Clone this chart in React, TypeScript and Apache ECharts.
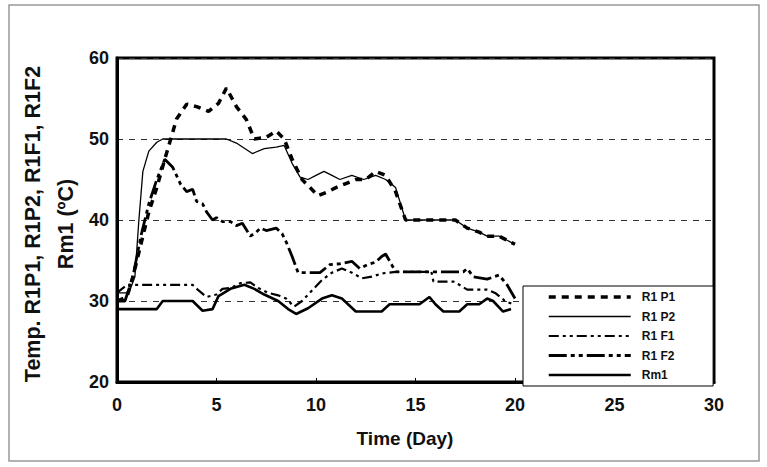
import React, { useEffect, useRef } from "react";
import * as echarts from "echarts";

const seriesNames = ["R1 P1", "R1 P2", "R1 F1", "R1 F2", "Rm1"];

const p1Days = [0, 0.5, 0.8, 1.2, 1.6, 2.0, 2.4, 2.7, 3.0, 3.5, 4.0, 4.6, 5.1, 5.5, 6.0, 6.5, 6.9, 7.5, 8.0, 8.4, 8.8, 9.3, 9.7, 10.1, 10.6, 11.0, 11.5, 12.0, 12.5, 13.0, 13.5, 14.0, 14.5, 15.5, 16.5, 17.0, 17.6, 18.2, 18.6, 19.2, 19.6, 20.0];
const p1Temps = [30, 30.5, 33, 37, 41, 44, 47.5, 50, 52.5, 54.3, 54, 53.4, 54.4, 56.3, 54, 52.4, 50, 50.2, 51, 50, 47.5, 45, 44, 43, 43.5, 44, 44.5, 45, 45, 46, 45.5, 43.5, 40, 40, 40, 40, 39, 38.5, 38, 38, 37.5, 37];

const p2Days = [0, 0.6, 0.9, 1.1, 1.3, 1.6, 2.0, 2.3, 3.0, 4.0, 5.0, 5.5, 6.0, 6.8, 7.4, 8.0, 8.4, 8.8, 9.2, 9.6, 10.0, 10.4, 10.8, 11.2, 11.8, 12.4, 13.0, 13.5, 14.0, 14.5, 15.5, 16.5, 17.0, 17.6, 18.2, 18.6, 19.2, 19.6, 20.0];
const p2Temps = [31, 31, 33, 40, 46, 48.5, 49.6, 50, 50, 50, 50, 50, 49.5, 48.2, 48.8, 49, 49.2, 47, 45.3, 45, 45.5, 46, 45.5, 45, 45.5, 45, 45.5, 45, 44, 40, 40, 40, 40, 39, 38.5, 38, 38, 37.5, 37];

const f1Days = [0, 0.5, 0.8, 2.0, 3.0, 3.8, 4.1, 4.5, 5.0, 5.3, 5.7, 6.2, 6.7, 7.1, 7.6, 8.1, 8.5, 8.9, 9.3, 9.8, 10.3, 10.8, 11.3, 11.8, 12.3, 12.8, 13.3, 14.0, 15.0, 15.8, 15.9, 16.9, 17.2, 17.6, 18.6, 19.0, 19.5, 20.0];
const f1Temps = [31, 32, 32, 32, 32, 32, 31.3, 30.5, 30.8, 31.5, 31.6, 32.2, 32.3, 31.6, 31, 30.7, 30.3, 29.3, 30, 31.3, 32.6, 33.5, 34, 33.5, 32.8, 33, 33.4, 33.6, 33.6, 33.6, 32.4, 32.4, 32, 31.4, 31.4, 31, 30, 29.5];

const f2Days = [0, 0.4, 0.8, 1.2, 1.6, 2.0, 2.4, 2.8, 3.2, 3.5, 3.8, 4.0, 4.3, 4.5, 4.8, 5.0, 5.3, 5.7, 6.0, 6.3, 6.7, 7.0, 7.2, 7.5, 8.0, 8.3, 8.5, 8.8, 9.1, 9.6, 10.2, 10.7, 11.2, 11.8, 12.2, 12.6, 13.0, 13.3, 13.5, 13.8, 14.0, 15.0, 16.0, 17.0, 17.4, 17.6, 17.9, 18.6, 19.2, 19.6, 20.0];
const f2Temps = [30, 30, 33, 38, 42, 45, 47.5, 46.5, 44.4, 43.5, 43.8, 42.3, 42, 41, 40, 40.3, 39.8, 39.8, 39.3, 39.6, 38, 38.5, 39, 38.7, 39, 38.3, 37.3, 35.5, 33.5, 33.5, 33.5, 34.5, 34.6, 34.9, 34, 34.5, 34.8, 35.5, 35.8, 34.5, 33.6, 33.6, 33.6, 33.6, 33.6, 34, 33, 32.7, 33.2, 32, 30.3];

const rmDays = [0, 2.0, 2.3, 3.8, 4.3, 4.8, 5.1, 5.7, 6.4, 6.9, 7.4, 8.1, 8.6, 9.0, 9.6, 10.3, 10.8, 11.3, 12.0, 13.3, 13.7, 15.2, 15.7, 16.0, 16.4, 17.2, 17.6, 18.2, 18.6, 18.9, 19.4, 19.8];
const rmTemps = [29, 29, 30, 30, 28.8, 29, 30.6, 31.5, 32, 31.5, 30.8, 30, 29, 28.4, 29.1, 30.3, 30.7, 30.3, 28.7, 28.7, 29.6, 29.6, 30.5, 29.6, 28.7, 28.7, 29.6, 29.6, 30.3, 30, 28.7, 29];

const xTicks = [0, 5, 10, 15, 20, 25, 30];
const yTicks = [20, 30, 40, 50, 60];

const yTitleLine1 = "Temp. R1P1, R1P2, R1F1, R1F2";
const yTitleLine2 = "Rm1 (ºC)";
const xTitle = "Time (Day)";

const zip = (xs: number[], ys: number[]) => xs.map((x, i) => [x, ys[i]]);

const FONT = "Arial, 'Liberation Sans', sans-serif";

export default function App() {
  const ref = useRef<HTMLDivElement>(null);
  useEffect(() => {
    if (!ref.current) return;
    const chart = echarts.init(ref.current, null, { renderer: "svg" });
    const mk = (name: string, data: number[][], width: number, type: any) => ({
      name,
      type: "line",
      data,
      symbol: "none",
      showSymbol: false,
      lineStyle: { color: "#000", width, type },
      itemStyle: { color: "#000" },
      z: 3,
    });
    chart.setOption({
      animation: false,
      backgroundColor: "#fff",
      grid: {
        left: 117,
        top: 58,
        right: 53,
        bottom: 85,
        show: true,
        borderColor: "#000",
        borderWidth: 3,
        backgroundColor: "transparent",
      },
      xAxis: {
        type: "value",
        min: xTicks[0],
        max: xTicks[xTicks.length - 1],
        interval: 5,
        axisLine: { lineStyle: { color: "#000", width: 3 } },
        axisTick: { show: true, inside: true, length: 4, lineStyle: { color: "#000" } },
        splitLine: { show: false },
        axisLabel: {
          color: "#111",
          fontSize: 18,
          fontWeight: "bold",
          fontFamily: FONT,
          margin: 14,
        },
      },
      yAxis: {
        type: "value",
        min: yTicks[0],
        max: yTicks[yTicks.length - 1],
        interval: 10,
        axisLine: { show: true, lineStyle: { color: "#000", width: 3 } },
        axisTick: { show: false },
        splitLine: { show: true, lineStyle: { color: "#333", width: 1.2, type: [6, 6] } },
        axisLabel: {
          color: "#111",
          fontSize: 18,
          fontWeight: "bold",
          fontFamily: FONT,
          margin: 8,
        },
      },
      legend: {
        orient: "vertical",
        left: 523,
        top: 286,
        itemWidth: 82,
        itemHeight: 12,
        itemGap: 7.5,
        padding: [5, 38, 5, 24],
        backgroundColor: "#fff",
        borderColor: "#000",
        borderWidth: 1,
        itemStyle: { opacity: 0 },
        lineStyle: { width: "inherit" },
        textStyle: {
          color: "#111",
          fontSize: 12,
          fontWeight: "bold",
          fontFamily: FONT,
          padding: [0, 0, 0, 6],
        },
        data: seriesNames,
      },
      graphic: [
        {
          type: "rect",
          shape: { x: 9, y: 5, width: 750, height: 456 },
          style: { fill: "none", stroke: "#999", lineWidth: 1.5 },
          silent: true,
          z: -1,
        },
        {
          type: "text",
          x: 33,
          y: 224,
          rotation: Math.PI / 2,
          style: {
            text: yTitleLine1,
            font: `bold 21.5px ${FONT}`,
            fill: "#111",
            textAlign: "center",
            textVerticalAlign: "middle",
          },
        },
        {
          type: "text",
          x: 66,
          y: 224,
          rotation: Math.PI / 2,
          style: {
            text: yTitleLine2,
            font: `bold 21.5px ${FONT}`,
            fill: "#111",
            textAlign: "center",
            textVerticalAlign: "middle",
          },
        },
        {
          type: "text",
          x: 405,
          y: 438,
          style: {
            text: xTitle,
            font: `bold 19px ${FONT}`,
            fill: "#111",
            textAlign: "center",
            textVerticalAlign: "middle",
          },
        },
      ],
      series: [
        mk(seriesNames[0], zip(p1Days, p1Temps), 3.5, [7, 6]),
        mk(seriesNames[1], zip(p2Days, p2Temps), 1.3, "solid"),
        mk(seriesNames[2], zip(f1Days, f1Temps), 2.2, [10, 4, 3, 4, 3, 4]),
        mk(seriesNames[3], zip(f2Days, f2Temps), 2.8, [18, 4, 4, 4, 4, 4]),
        mk(seriesNames[4], zip(rmDays, rmTemps), 2.6, "solid"),
      ],
    });
    return () => chart.dispose();
  }, []);
  return (
    <div
      ref={ref}
      style={{ position: "fixed", left: 0, top: 0, width: 767, height: 467 }}
    />
  );
}
